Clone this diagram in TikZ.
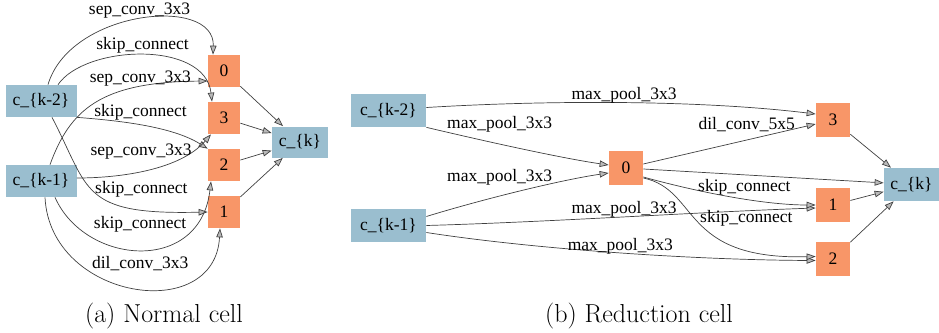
\documentclass[tikz,border=0pt]{standalone}
\usepackage{fontspec}
\newfontfamily\graphfont{Liberation Serif}
\usetikzlibrary{arrows.meta,positioning}
\definecolor{cellblue}{RGB}{154,190,207}
\definecolor{oporange}{RGB}{248,150,104}

\begin{document}
\begin{tikzpicture}[x=1pt,y=-1pt,line width=0.7pt,
    >={Triangle[length=9pt,width=6.5pt,fill=gray!55]}]
       \tikzstyle{inbox}=[fill=cellblue,minimum height=32pt,inner sep=0pt,font=\graphfont\fontsize{17.5}{20}\selectfont]
       \tikzstyle{opbox}=[fill=oporange,minimum size=32pt,inner sep=0pt,font=\graphfont\fontsize{17.5}{20}\selectfont]
       \tikzstyle{lbl}=[inner sep=0pt,font=\graphfont\fontsize{17.5}{20}\selectfont]
       \tikzstyle{flow}=[->,draw=black!75]
       \tikzstyle{caption}=[inner sep=0pt,font=\fontsize{26}{30}\selectfont]
       \useasboundingbox (0,0) rectangle (939,332);

       % (a) normal cell
       \node[inbox,minimum width=71pt] (k2a) at (41,101) {c\_\{k-2\}};
       \node[inbox,minimum width=71pt] (k1a) at (41,181) {c\_\{k-1\}};
       \node[opbox] (n0a) at (224,71) {0};
       \node[opbox] (n3a) at (224,118) {3};
       \node[opbox] (n2a) at (224,165) {2};
       \node[opbox] (n1a) at (224,212) {1};
       \node[inbox,minimum width=56pt,minimum height=31pt] (cka) at (300,142) {c\_\{k\}};

       \draw[flow] ([xshift=7pt]k2a.north) .. controls (70,10) and (215,-5) .. ([xshift=-11pt]n0a.north)
         node[lbl,pos=.5,above=1pt] {sep\_conv\_3x3};
       \draw[flow] ([xshift=17pt]k2a.north) .. controls (85,45) and (205,40) .. ([xshift=-12pt]n3a.north)
         node[lbl,pos=.5,above=2pt] {skip\_connect};
       \draw[flow] ([xshift=9pt]k1a.north) .. controls (70,110) and (100,82) .. ([yshift=-10pt]n0a.west)
         node[lbl,pos=.75,above=0pt] {sep\_conv\_3x3};
       \draw[flow] (k2a.south east) .. controls (110,120) and (170,125) .. (n2a.north west)
         node[lbl,pos=.5,above=4.5pt] {skip\_connect};
       \draw[flow] ([yshift=3pt]k1a.east) .. controls (120,178) and (180,170) .. ([xshift=-13pt]n3a.south)
         node[lbl,pos=.45,above=12pt] {sep\_conv\_3x3};
       \draw[flow] ([xshift=11pt]k2a.south) .. controls (90,190) and (80,215) .. (n1a.west)
         node[lbl,pos=.78,above=12pt] {skip\_connect};
       \draw[flow] ([xshift=14pt]k1a.south) .. controls (85,265) and (200,275) .. ([xshift=-13pt]n2a.south)
         node[lbl,pos=.5,above=17pt] {skip\_connect};
       \draw[flow] ([xshift=4pt]k1a.south) .. controls (50,300) and (215,325) .. ([xshift=-4pt]n1a.south)
         node[lbl,pos=.53,above=17pt] {dil\_conv\_3x3};

       \draw[flow] (n0a) -- (cka);
       \draw[flow] (n3a) -- (cka);
       \draw[flow] (n2a) -- (cka);
       \draw[flow] (n1a) -- (cka);

       % (b) reduction cell
       \node[inbox,minimum width=75pt,minimum height=33pt] (k2b) at (388.5,110.5) {c\_\{k-2\}};
       \node[inbox,minimum width=75pt,minimum height=33pt] (k1b) at (388.5,225.5) {c\_\{k-1\}};
       \node[opbox,minimum size=34pt] (n0b) at (626,168) {0};
       \node[opbox,minimum size=34pt] (n3b) at (833,120) {3};
       \node[opbox,minimum size=34pt] (n1b) at (833,205) {1};
       \node[opbox,minimum size=34pt] (n2b) at (833,258.5) {2};
       \node[inbox,minimum width=55pt,minimum height=33pt] (ckb) at (911.5,184.5) {c\_\{k\}};

       \draw[flow] ([yshift=3pt]k2b.east) .. controls (550,100) and (700,100) .. ([yshift=6pt]n3b.west)
         node[lbl,pos=.5,above=-1pt] {max\_pool\_3x3};
       \draw[flow] (k2b.south east) .. controls (480,140) and (560,158) .. ([yshift=3pt]n0b.west)
         node[lbl,pos=.4,above=11pt] {max\_pool\_3x3};
       \draw[flow] ([yshift=9pt]k1b.east) .. controls (480,200) and (560,180) .. ([yshift=-5pt]n0b.west)
         node[lbl,pos=.4,above=11pt] {max\_pool\_3x3};
       \draw[flow] (k1b.east) .. controls (550,222) and (700,212) .. ([yshift=-3pt]n1b.west)
         node[lbl,pos=.5,above=-1pt] {max\_pool\_3x3};
       \draw[flow] ([yshift=-7pt]k1b.east) .. controls (540,250) and (700,260) .. ([yshift=-2pt]n2b.west)
         node[lbl,pos=.5,above=-2pt] {max\_pool\_3x3};

       \draw[flow] (n0b) -- (n3b) node[lbl,pos=.6,above=8pt] {dil\_conv\_5x5};
       \draw[flow] (n0b) -- (ckb);
       \draw[flow] ([yshift=-9pt]n0b.east) .. controls (690,190) and (760,205) .. (n1b.west)
         node[lbl,pos=.6,above=3pt] {skip\_connect};
       \draw[flow] ([yshift=-10pt]n0b.east) .. controls (700,190) and (680,260) .. ([yshift=2pt]n2b.west)
         node[lbl,pos=.5,right=0pt,yshift=5pt] {skip\_connect};

       \draw[flow] (n3b) -- (ckb);
       \draw[flow] (n1b) -- (ckb);
       \draw[flow] (n2b) -- (ckb);

       % captions
       \node[caption] (capa) at (164,316) {(a) Normal cell};
       \node[caption] (capb) at (639,316) {(b) Reduction cell};
     \end{tikzpicture}
\end{document}
